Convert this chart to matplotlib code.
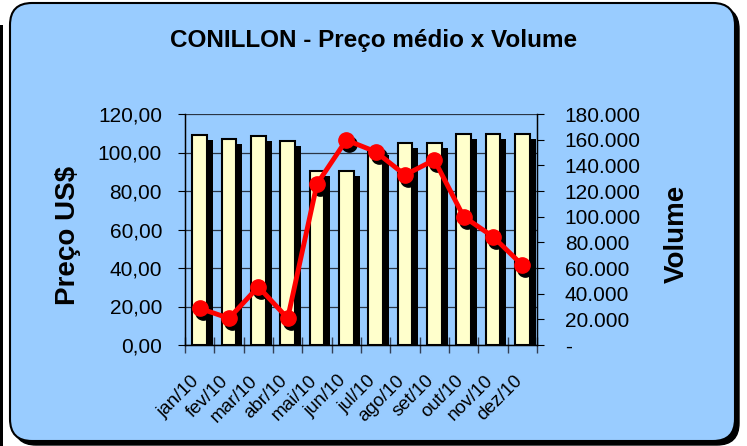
import matplotlib
matplotlib.use('Agg')
import matplotlib.pyplot as plt
from matplotlib.patches import FancyBboxPatch, Rectangle
from matplotlib.transforms import IdentityTransform, offset_copy, ScaledTranslation
from matplotlib.ticker import FuncFormatter, MultipleLocator
import numpy as np

# dados
meses = ['jan/10', 'fev/10', 'mar/10', 'abr/10', 'mai/10', 'jun/10',
         'jul/10', 'ago/10', 'set/10', 'out/10', 'nov/10', 'dez/10']
preco = [109.1, 107.2, 108.6, 106.1, 90.4, 90.4, 101.5, 105.0, 105.0, 109.4, 109.4, 109.4]
volume = [28600, 20800, 45400, 20800, 125500, 159700, 150600, 132500, 144200, 100000, 84400, 62300]

plt.rcParams['font.family'] = ['Liberation Sans', 'DejaVu Sans']

fig = plt.figure(figsize=(7.47, 4.46), dpi=100)
fig.patch.set_facecolor('white')

# moldura arredondada com sombra
fig.patches.append(Rectangle((0, 0), 3, 421, transform=IdentityTransform(),
                             facecolor='black', edgecolor='none', zorder=-3))
fig.patches.append(FancyBboxPatch((14, 1), 725, 438, boxstyle='round,pad=0,rounding_size=22',
                                  transform=IdentityTransform(), facecolor='black',
                                  edgecolor='black', zorder=-2))
fig.patches.append(FancyBboxPatch((10, 5), 725, 438, boxstyle='round,pad=0,rounding_size=22',
                                  transform=IdentityTransform(), facecolor='#99CCFF',
                                  edgecolor='black', linewidth=1.5, zorder=-1))

ax = fig.add_axes([185 / 747, 1 - 345 / 446, (537 - 185) / 747, (345 - 114) / 446])
ax.set_facecolor('none')
x = np.arange(len(meses))

# sombra das barras
sombra = offset_copy(ax.transData, fig=fig, x=6, y=-5, units='dots')
ax.bar(x, preco, width=0.5, color='black', transform=sombra, zorder=2)
ax.bar(x, preco, width=0.5, color='#FFFFCC', edgecolor='black', linewidth=1.5, zorder=3)

ax.set_xlim(-0.5, len(meses) - 0.5)
ax.set_ylim(0, 120)
ax.yaxis.set_major_locator(MultipleLocator(20))
ax.yaxis.set_major_formatter(FuncFormatter(lambda v, p: f'{v:.2f}'.replace('.', ',')))
ax.grid(axis='y', color='#2a3545', linewidth=0.9, zorder=1)
ax.set_axisbelow(True)

ax.set_xticks(np.arange(len(meses) + 1) - 0.5, minor=False)
ax.set_xticklabels([])
ax.set_xticks(x, minor=True)
ax.set_xticklabels(meses, minor=True, rotation=45, ha='right', va='center',
                   rotation_mode='anchor', fontsize=13.5)
ax.tick_params(axis='x', which='major', direction='inout', length=11, width=1, color='#333f55')
ax.tick_params(axis='x', which='minor', length=0, pad=24)
ax.tick_params(axis='y', direction='out', length=5, labelsize=15, pad=11.5)
for lbl in ax.get_xticklabels(minor=True):
    lbl.set_transform(lbl.get_transform() + ScaledTranslation(-3 / 100, 0, fig.dpi_scale_trans))

ax.spines['top'].set_visible(False)
for s in ['left', 'bottom', 'right']:
    ax.spines[s].set_color('black')
    ax.spines[s].set_linewidth(1)

# volume no eixo secundário
ax2 = ax.twinx()
ax2.set_ylim(0, 180000)
ax2.yaxis.set_major_locator(MultipleLocator(20000))
ax2.yaxis.set_major_formatter(FuncFormatter(
    lambda v, p: '-' if v == 0 else f'{int(v):,}'.replace(',', '.')))
ax2.tick_params(axis='y', direction='out', length=5, labelsize=15, pad=15)
ax2.spines['top'].set_visible(False)
ax2.spines['right'].set_color('black')

sombra2 = offset_copy(ax2.transData, fig=fig, x=3, y=-4, units='dots')
ax2.plot(x, volume, 'o', color='black', markersize=11, transform=sombra2, zorder=2)
ax2.plot(x, volume, '-o', color='#FF0000', linewidth=3.5, markersize=11, zorder=3)

fig.text(374 / 747, 1 - 40 / 446, 'CONILLON - Preço médio x Volume', ha='center', va='center',
         fontsize=17.5, fontweight='bold')
fig.text(68 / 747, 1 - 235 / 446, 'Preço US$', rotation=90, ha='center', va='center',
         fontsize=20, fontweight='bold')
fig.text(677 / 747, 1 - 234 / 446, 'Volume', rotation=90, ha='center', va='center',
         fontsize=20, fontweight='bold')

fig.savefig('out.png', dpi=100)
